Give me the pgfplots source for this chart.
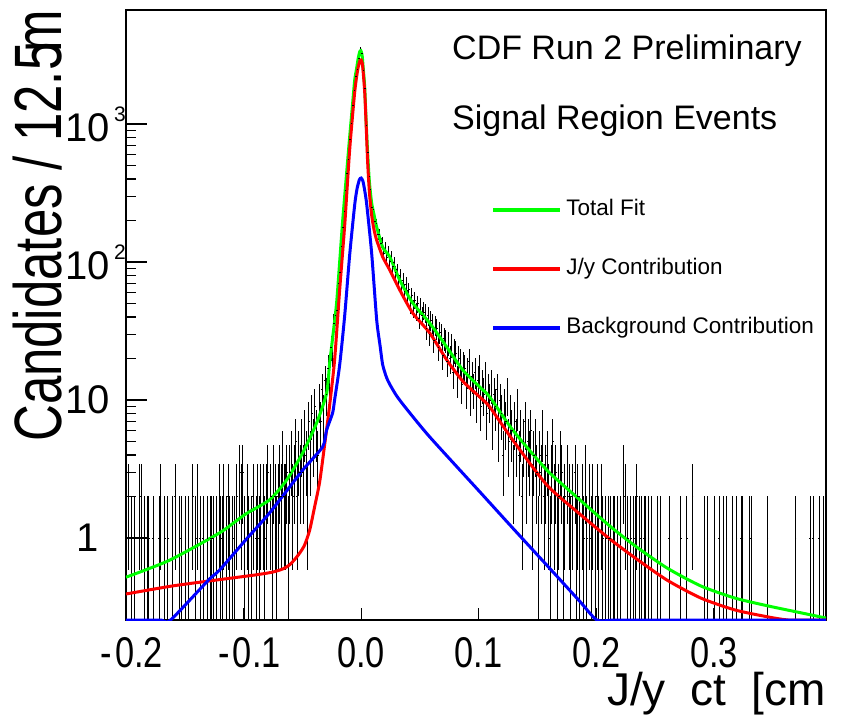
\documentclass[border=0pt]{standalone}
\usepackage{fontspec}
\setmainfont{Liberation Sans}
\newfontfamily\ticksans[FakeStretch=0.8]{Liberation Sans}
\newfontfamily\titlesans[FakeStretch=0.76]{Liberation Sans}
\usepackage{pgfplots}
\pgfplotsset{compat=1.18}
\usepackage{pgfplotstable}

% histogram: bin index i (bin width 0.00125 from -0.2), count n
\pgfplotstableread[row sep=\\]{
i n\\
0 1\\ 1 2\\ 3 1\\ 5 1\\ 9 2\\ 10 2\\ 12 1\\ 14 1\\ 15 1\\ 18 1\\ 22 1\\ 23 2\\ 26 1\\ 28 1\\ 31 1\\ 33 2\\ 36 1\\ 37 1\\ 40 1\\ 42 1\\
45 2\\ 47 1\\ 48 2\\ 50 1\\ 52 1\\ 55 1\\ 57 1\\ 58 1\\ 59 1\\ 61 1\\ 63 2\\ 64 1\\ 65 1\\ 66 2\\ 68 1\\ 69 2\\ 70 1\\ 72 1\\ 73 1\\ 75 2\\
77 3\\ 78 2\\ 79 3\\ 80 1\\ 82 2\\ 83 1\\ 85 1\\ 86 2\\ 88 1\\ 89 2\\ 90 1\\ 91 2\\ 93 2\\ 94 1\\ 95 2\\ 96 3\\ 98 2\\ 99 1\\ 100 3\\ 101 2\\
102 1\\ 103 2\\ 104 3\\ 105 2\\ 106 4\\ 107 2\\ 108 2\\ 109 3\\ 110 1\\ 111 3\\ 112 4\\ 113 2\\ 114 3\\ 115 5\\ 116 2\\ 117 4\\ 118 3\\ 119 5\\
120 3\\ 121 6\\ 122 4\\ 123 2\\ 124 7\\ 125 4\\ 126 8\\ 127 5\\ 128 9\\ 129 6\\ 130 4\\ 131 10\\ 132 7\\ 133 12\\ 134 8\\ 135 14\\ 136 11\\ 137 17\\ 138 13\\ 139 24\\
140 22\\ 141 36\\ 142 41\\ 143 45\\ 144 70\\ 145 84\\ 146 131\\ 147 180\\ 148 232\\ 149 330\\ 150 440\\ 151 560\\ 152 770\\ 153 1010\\ 154 1370\\ 155 1760\\ 156 2220\\ 157 2490\\ 158 2980\\ 159 3550\\
160 3250\\ 161 2470\\ 162 1810\\ 163 980\\ 164 620\\ 165 421\\ 166 338\\ 167 249\\ 168 240\\ 169 198\\ 170 190\\ 171 158\\ 172 160\\ 173 137\\ 174 140\\ 175 116\\ 176 128\\ 177 109\\ 178 119\\ 179 101\\
180 110\\ 181 93\\ 182 99\\ 183 84\\ 184 88\\ 185 72\\ 186 80\\ 187 66\\ 188 74\\ 189 61\\ 190 69\\ 191 55\\ 192 63\\ 193 49\\ 194 57\\ 195 46\\ 196 53\\ 197 44\\ 198 50\\ 199 39\\
200 48\\ 201 41\\ 202 45\\ 203 43\\ 204 33\\ 205 41\\ 206 30\\ 207 38\\ 208 36\\ 209 27\\ 210 35\\ 211 33\\ 212 24\\ 213 31\\ 214 30\\ 215 21\\ 216 28\\ 217 27\\ 218 19\\ 219 26\\
220 20\\ 221 25\\ 222 16\\ 223 23\\ 224 22\\ 225 14\\ 226 20\\ 227 19\\ 228 13\\ 229 18\\ 230 17\\ 231 12\\ 232 16\\ 233 19\\ 234 11\\ 235 15\\ 236 12\\ 237 16\\ 238 10\\ 239 14\\
240 17\\ 241 9\\ 242 13\\ 243 11\\ 244 15\\ 245 8\\ 246 12\\ 247 10\\ 248 13\\ 249 7\\ 250 11\\ 251 9\\ 252 12\\ 253 6\\ 254 10\\ 255 8\\ 256 4\\ 257 9\\ 258 7\\ 259 11\\
260 5\\ 261 8\\ 262 6\\ 263 3\\ 264 7\\ 265 5\\ 266 9\\ 267 4\\ 268 6\\ 269 2\\ 270 5\\ 271 7\\ 272 3\\ 273 5\\ 274 4\\ 275 6\\ 276 2\\ 277 4\\ 278 5\\ 279 3\\
280 1\\ 281 4\\ 282 3\\ 283 6\\ 284 2\\ 285 3\\ 286 4\\ 287 2\\ 288 1\\ 289 3\\ 290 5\\ 291 2\\ 292 3\\ 293 1\\ 294 2\\ 295 4\\ 296 3\\ 297 1\\ 298 2\\ 300 3\\
301 2\\ 302 1\\ 303 2\\ 305 3\\ 306 1\\ 307 2\\ 308 1\\ 310 2\\ 311 1\\ 312 3\\ 313 1\\ 315 2\\ 316 1\\ 317 2\\ 319 1\\ 320 2\\ 321 1\\ 323 2\\ 324 1\\ 326 1\\
328 1\\ 329 1\\ 331 1\\ 332 1\\ 334 1\\ 336 1\\ 338 3\\ 339 2\\ 341 1\\ 343 1\\ 345 1\\ 346 1\\ 347 2\\ 349 1\\ 350 1\\ 352 1\\ 353 1\\ 355 1\\ 357 1\\ 361 1\\
363 1\\ 369 1\\ 377 1\\ 381 1\\ 385 2\\ 393 1\\ 395 1\\ 400 1\\ 403 1\\ 406 1\\ 408 1\\ 412 1\\ 415 1\\ 418 1\\ 419 1\\ 424 1\\ 425 1\\ 436 1\\ 455 1\\ 465 1\\
467 1\\ 471 1\\ 474 1\\
}\histdata

\pgfplotstableread[row sep=\\]{
x y\\
-0.2 0.52\\ -0.163 0.69\\ -0.1204 1.09\\ -0.0983 1.49\\ -0.0779 1.89\\ -0.0634 2.63\\ -0.0498 4.13\\ -0.0379 6.81\\ -0.0294 11.2\\ -0.0268 18.5\\
-0.0240 29.5\\ -0.0209 50.5\\ -0.0183 100\\ -0.0157 201\\ -0.0128 400\\ -0.0098 805\\ -0.0075 1340\\ -0.0055 2084\\ -0.0041 2460\\ -0.0025 3000\\
-0.0013 3325\\ -0.0003 3400\\ 0.0008 3150\\ 0.0018 2500\\ 0.0030 1854\\ 0.0042 1050\\ 0.0055 616\\ 0.0070 380\\ 0.0089 268\\ 0.0110 219\\
0.0132 179\\ 0.0183 128\\ 0.0243 109\\ 0.0328 74\\ 0.0438 50.5\\ 0.0583 36.1\\ 0.0728 24.2\\ 0.0864 16.5\\ 0.1009 12.4\\ 0.1094 10.5\\
0.1289 6.06\\ 0.1579 3.11\\ 0.186 1.89\\ 0.2115 1.22\\ 0.2319 0.89\\ 0.26 0.607\\ 0.2889 0.449\\ 0.3179 0.367\\ 0.346 0.322\\ 0.3749 0.286\\ 0.3953 0.263\\
}\totalfit

\pgfplotstableread[row sep=\\]{
x y\\
-0.2 0.393\\ -0.16 0.45\\ -0.12 0.50\\ -0.09 0.54\\ -0.075 0.567\\ -0.066 0.60\\ -0.0608 0.64\\ -0.0565 0.70\\ -0.0523 0.778\\ -0.0481 0.89\\
-0.0438 1.14\\ -0.0396 1.68\\ -0.0353 2.55\\ -0.0311 4.72\\ -0.0268 9.2\\ -0.0226 19.5\\ -0.0183 62.7\\ -0.0140 185\\ -0.0098 648\\ -0.0055 1706\\
-0.0030 2460\\ -0.0012 2850\\ 0 2910\\ 0.0012 2650\\ 0.0030 1706\\ 0.0042 1000\\ 0.0055 531\\ 0.0070 320\\ 0.0089 219\\ 0.0110 170\\
0.0132 144\\ 0.0183 109\\ 0.0243 87.5\\ 0.0328 62.7\\ 0.0438 42.7\\ 0.0583 30.6\\ 0.0728 19.5\\ 0.0864 13.7\\ 0.1009 10.5\\ 0.1094 8.9\\
0.1289 5.13\\ 0.1579 2.42\\ 0.186 1.49\\ 0.2115 0.983\\ 0.2319 0.728\\ 0.26 0.496\\ 0.2889 0.367\\ 0.3179 0.301\\ 0.346 0.268\\ 0.363 0.2546\\ 0.38 0.2546\\ 0.3953 0.2546\\
}\jpsi

\pgfplotstableread[row sep=\\]{
x y\\
-0.2 0.2546\\ -0.185 0.2546\\ -0.17 0.2546\\ -0.1621 0.2546\\ -0.1298 0.496\\ -0.1204 0.586\\ -0.0983 0.967\\ -0.0779 1.52\\ -0.0498 3.1\\ -0.0328 4.57\\ -0.0294 6.06\\ -0.0243 8.05\\
-0.0226 10\\ -0.0183 17.9\\ -0.0140 41\\ -0.0098 112\\ -0.0055 260\\ -0.0035 340\\ -0.0015 395\\ 0 406\\ 0.0015 385\\ 0.0030 330\\
0.0047 262\\ 0.0089 116\\ 0.0132 38\\ 0.0160 25\\ 0.0183 18\\ 0.0215 14.6\\ 0.0243 13.0\\ 0.0302 10.7\\ 0.0387 8.6\\ 0.0583 5.4\\
0.1009 2.16\\ 0.1289 1.18\\ 0.1579 0.635\\ 0.186 0.347\\ 0.2004 0.2546\\ 0.215 0.2546\\ 0.24 0.2546\\ 0.27 0.2546\\ 0.30 0.2546\\ 0.33 0.2546\\ 0.36 0.2546\\ 0.3953 0.2546\\
}\bkg

\begin{document}
\begin{tikzpicture}
\begin{axis}[
  name=ax,
  scale only axis, width=700bp, height=610bp,
  xmin=-0.2, xmax=0.3953,
  ymode=log, ymin=0.2546, ymax=6700,
  axis line style={line width=1.5bp},
  tick align=inside, tick pos=left,
  major tick length=21bp, minor tick length=10bp,
  tick style={line width=1.2bp, black},
  xtick={-0.2,-0.1,0,0.1,0.2,0.3},
  xticklabels={\hspace{12bp}-\hspace{3bp}0.2, \hspace{12bp}-\hspace{3bp}0.1, 0.0, 0.1, 0.2, 0.3},
  xticklabel style={font=\ticksans\fontsize{43bp}{43bp}\selectfont, inner sep=0pt, anchor=north, yshift=-17bp},
  xtick style={/pgfplots/major tick length=12bp},
  ytick={1,10,100,1000},
  yticklabels={1, 10, 10\rlap{\hspace{4bp}\raisebox{20bp}{\fontsize{21bp}{21bp}\selectfont 2}}, 10\rlap{\hspace{4bp}\raisebox{20bp}{\fontsize{21bp}{21bp}\selectfont 3}}},
  yticklabel style={font=\fontsize{40bp}{40bp}\selectfont, inner sep=0pt, anchor=center, xshift=-38bp},
  legend style={draw=none, fill=none, at={(0.522,0.689)}, anchor=north west, inner sep=0pt, outer sep=0pt,
    row sep=38bp, column sep=4bp, font=\fontsize{22.5bp}{22.5bp}\selectfont,
    nodes={inner sep=0pt, text height=16bp, text depth=5bp}},
  legend cell align=left,
  legend image code/.code={\draw[#1, line width=4bp] (0bp,0bp) -- (67bp,0bp);},
]
\addplot[forget plot, only marks, mark=-, mark size=0.75bp, black,
  error bars/.cd, y dir=both, y explicit, error mark=none,
  error bar style={line width=1bp, black}]
  table[x expr={-0.2+0.00125*(\thisrow{i}+0.5)}, y=n,
        y error plus expr={sqrt(\thisrow{n})},
        y error minus expr={min(sqrt(\thisrow{n}),0.999*\thisrow{n})}] {\histdata};
\addplot[green, line width=3bp, smooth, tension=0.4] table[x=x, y=y] {\totalfit};
\addlegendentry{Total Fit}
\addplot[red, line width=3bp, smooth, tension=0.4] table[x=x, y=y] {\jpsi};
\addlegendentry{J/y Contribution}
\addplot[blue, line width=3bp, smooth, tension=0.4] table[x=x, y=y] {\bkg};
\addlegendentry{Background Contribution}
\end{axis}
\node[anchor=base west, inner sep=0pt, font=\fontsize{34bp}{34bp}\selectfont] at ([shift={(326bp,-50bp)}]ax.north west) {CDF Run 2 Preliminary};
\node[anchor=base west, inner sep=0pt, font=\fontsize{34bp}{34bp}\selectfont] at ([shift={(326bp,-120bp)}]ax.north west) {Signal Region Events};
\node[anchor=base east, inner sep=0pt, font=\fontsize{46bp}{46bp}\selectfont] at ([shift={(0bp,-85bp)}]ax.south east) {J/y\hspace{25bp}ct\hspace{25bp}[cm};
\node[rotate=90, anchor=base east, inner sep=0pt, font=\titlesans\fontsize{67bp}{67bp}\selectfont] at ([shift={(-64bp,0bp)}]ax.north west) {Candidates / 12.5\kern-0.15em m};
\pgfresetboundingbox
\path[use as bounding box] ([shift={(-126bp,-95bp)}]ax.south west) rectangle ([shift={(15bp,10bp)}]ax.north east);
\end{tikzpicture}
\end{document}
